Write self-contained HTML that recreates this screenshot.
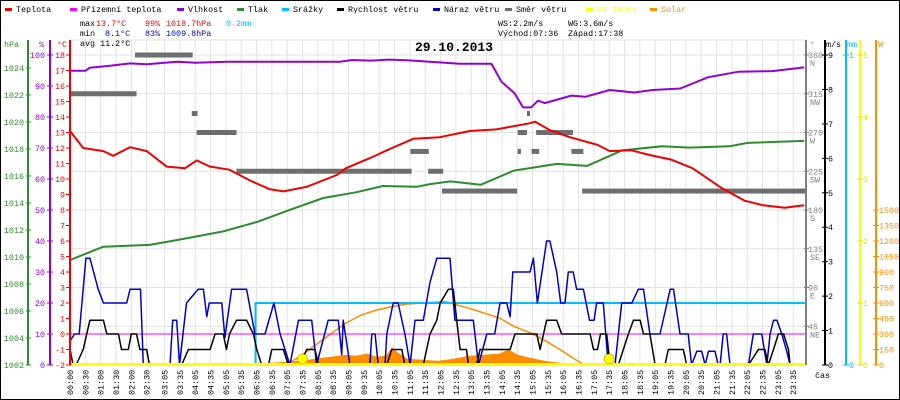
<!DOCTYPE html>
<html><head><meta charset="utf-8"><style>
html,body{margin:0;padding:0;background:#fff}
svg{display:block;font-family:"Liberation Mono","DejaVu Sans Mono",monospace}
</style></head><body>
<svg id="c" width="900" height="400" viewBox="0 0 900 400" xmlns="http://www.w3.org/2000/svg">
<rect x="0.5" y="0.5" width="899" height="399" fill="#fff" stroke="#000"/>
<g id="grid"></g>
<g id="series"></g>
<g id="axes"></g>
<g id="legend" font-size="8.4"></g>
<g font-size="8.4">
<text x="80" y="26">max</text>
<text x="96" y="26" fill="#e00">13.7°C</text>
<text x="145" y="26" fill="#e00">99%</text>
<text x="166" y="26" fill="#e00">1018.7hPa</text>
<text x="226" y="26" fill="#0bf">0.2mm</text>
<text x="80" y="36">min</text>
<text x="105" y="36" fill="#00c">8.1°C</text>
<text x="145" y="36" fill="#00c">83%</text>
<text x="166" y="36" fill="#00c">1009.8hPa</text>
<text x="80" y="46">avg 11.2°C</text>
<text x="498" y="26">WS:2.2m/s</text>
<text x="568" y="26">WG:3.6m/s</text>
<text x="498" y="36">Východ:07:36</text>
<text x="568" y="36">Západ:17:38</text>
<text x="415" y="51" font-size="13" font-weight="bold">29.10.2013</text>
</g>
</svg>
<script>
// ---- data ----
var timeLabels=["00:00","00:30","01:00","01:30","02:00","02:30"];
for(var h=3;h<24;h++){var hh=(h<10?"0":"")+h;timeLabels.push(hh+":05");timeLabels.push(hh+":35");}
var tempT=[0,0.43,1.09,1.41,1.96,2.5,3.15,3.75,4.13,4.57,5.2,5.87,6.5,6.96,7.72,8.7,9.0,9.78,10.5,11.2,12.06,13.04,13.9,15.0,15.17,15.65,16.3,17.2,17.6,18.3,18.9,19.6,20.3,21.26,22.0,22.6,23.3,23.94];
var tempV=[13.1,12.0,11.8,11.5,12.05,11.8,10.8,10.7,11.2,10.8,10.6,9.9,9.35,9.2,9.5,10.26,10.7,11.35,12.0,12.6,12.7,13.1,13.2,13.6,13.7,13.15,12.7,12.2,11.8,11.85,11.55,11.25,10.7,9.4,8.6,8.3,8.15,8.3];
var humT=[0,0.5,0.65,1.3,1.96,2.5,3.5,4.1,5.1,8.8,9.2,9.8,10.4,11.0,11.74,12.7,13.74,14.07,14.5,14.77,15.04,15.26,15.48,16.35,16.8,17.6,18.4,19.0,19.9,20.8,21.8,22.9,23.94];
var humV=[94.9,94.9,95.9,96.5,97.3,97.0,97.8,97.5,97.8,97.8,98.4,98.2,98.5,98.3,97.8,97.2,97.2,91.4,87.6,83.1,83.1,85.3,84.5,86.9,86.5,88.7,87.9,88.7,89.2,92.8,94.6,94.8,96];
var pressT=[0,1.09,2.6,3.5,5.0,6.1,7.17,8.26,9.35,10.2,11.3,11.74,12.4,13.39,14.47,15.88,16.86,18.0,19.3,20.2,21.5,22.1,23.94];
var pressV=[1009.78,1010.76,1010.9,1011.26,1011.9,1012.6,1013.5,1014.37,1014.8,1015.26,1015.2,1015.4,1015.6,1015.35,1016.4,1016.9,1016.75,1017.9,1018.2,1018.1,1018.2,1018.45,1018.6];
var dirStart=[0,2.12,3.97,4.13,5.43,11.1,11.68,12.13,14.6,14.6,14.9,15.2,14.6,15.05,16.35,16.7];
var dirEnd=[2.17,4.0,4.16,5.43,11.14,11.7,12.17,14.58,14.9,14.7,15.0,16.4,14.7,15.3,16.74,24];
var dirDeg=[315,360,292,270,225,248,225,202,270,248,292,270,248,248,248,202];
var rainT=[0,6.05,6.05,24];
var rainV=[0,0,0.2,0.2];
var apparentT=[0,24];
var apparentV=[0,0];
var gustT=[0,0.15,0.3,0.52,0.65,0.92,1.09,1.85,1.96,2.3,2.39,3.26,3.35,3.48,3.57,3.8,4.18,4.35,4.46,4.54,4.95,5.05,5.27,5.76,6.03,6.36,6.65,6.85,7.17,7.45,7.88,8.04,8.42,8.75,8.86,8.91,9.13,9.78,9.84,9.95,10.05,10.27,10.33,10.54,10.7,10.92,11.09,11.25,11.52,11.74,11.96,12.39,12.55,13.15,13.32,13.59,13.85,14.02,14.24,14.35,14.44,15.0,15.11,15.24,15.54,15.65,15.87,16.0,16.14,16.25,16.41,16.52,16.74,16.94,17.09,17.17,17.39,17.55,17.77,17.99,18.32,18.53,18.7,18.91,19.24,19.57,19.68,19.89,20.16,20.27,20.44,20.6,20.71,20.82,21.03,21.14,21.2,21.3,21.41,21.52,22.12,22.28,22.56,22.72,22.83,22.94,23.05,23.21,23.37,23.48,23.95];
var gustV=[0.7,0.9,0.9,3.1,3.1,2.2,1.8,1.8,2.2,2.2,0,0,1.3,1.3,0,1.8,2.2,2.2,1.4,1.8,1.8,0.8,2.2,2.2,0.9,0.9,1.8,0.9,0,1.3,1.3,0,1.3,1.3,0.3,1.3,0,0,0.9,0.9,0,0,0.9,1.8,1.8,0.9,0,1.3,1.3,2.4,3.1,3.1,1.3,1.3,0,0.9,0.9,1.8,1.8,1.4,2.7,2.7,3.1,1.8,3.6,3.6,2.7,1.8,1.8,2.7,2.7,2.2,2.2,1.3,1.3,1.8,1.8,0,0,1.8,1.8,2.2,2.2,0.9,0.9,2.2,2.2,0.9,0.9,0,0.4,0.4,0,0.4,0.4,0,0,0.9,0.9,0,0,0.9,0.9,0,0.9,1.3,1.3,0.9,0.4,0,0];
var windT=[0,0.1,0.2,0.43,0.65,1.09,1.2,1.58,1.68,1.9,2.0,2.17,2.28,2.5,2.59,3.64,3.86,4.57,4.73,5.0,5.1,5.2,5.43,5.76,5.98,6.09,6.25,6.47,6.58,6.96,7.12,7.5,7.72,7.99,8.1,10.33,10.49,10.82,10.92,11.52,11.74,11.96,12.07,12.34,12.5,12.61,12.72,12.93,12.99,13.26,13.37,14.35,14.51,15.22,15.33,15.54,15.87,16.03,16.96,17.07,17.2,17.3,17.5,17.61,17.88,18.21,18.37,18.59,18.7,18.91,19.08,19.4,19.51,20.0,20.11,22.12,22.45,22.66,22.77,22.94,23.1,23.27,23.43,23.48,23.95];
var windV=[0.45,0,0,0.45,1.3,1.3,0.9,0.9,0.45,0.45,0.9,0.9,0.45,0.45,0,0,0.45,0.45,0.9,0.9,0.45,0.9,1.3,1.3,0.9,0.45,0,0,0.45,0.45,0,0,0.45,0.45,0,0,0.45,0.45,0,0,0.9,1.3,1.8,2.2,2.2,1.3,0.45,0.45,0,0,0.45,0.45,0.9,0.9,0.45,1.3,1.3,0.9,0.9,0.45,0.45,0.9,0.9,0,0,0.9,1.3,1.3,0.9,0.9,0,0,0.45,0.45,0,0,0.45,0.45,0,0.45,0.9,0.9,0.45,0,0];
var sunMaxT=[7.0,7.5,8,8.5,9,9.5,10,10.5,11,11.5,12,12.2,12.5,13,13.5,14,14.5,15,15.5,16,16.5,16.8];
var sunMaxV=[0,80,193,300,406,484,532,565,590,600,610,615,590,550,503,455,371,313,235,145,48,0];
var solarT=[6.4,6.5,7,7.5,8,8.5,9,9.3,9.7,10,10.3,10.5,10.7,11,11.5,12,12.5,13,13.5,14,14.3,14.6,15,15.5,16,16.5];
var solarV=[0,20,30,40,60,80,100,90,110,80,90,170,120,60,50,40,60,90,100,110,150,100,70,40,20,0];
var sunEventT=[7.58,17.58];
var hpaTicks=[1002,1004,1006,1008,1010,1012,1014,1016,1018,1020,1022,1024];
var humTicks=[0,10,20,30,40,50,60,70,80,90,100];
var tempTicks=[-2,-1,0,1,2,3,4,5,6,7,8,9,10,11,12,13,14,15,16,17,18];
var dirTicks=[45,90,135,180,225,270,315,360];
var dirNames=["NE","E","SE","S","SW","W","NW","N"];
var windTicks=[0,1,2,3,4,5,6,7,8,9];
var rainTicks=[0,1];
var uvTicks=[0,1,2,3,4,5];
var solarTicks=[0,150,300,450,600,750,900,1050,1200,1350,1500];

// ---- scales ----
function X(t){return 70+t*30.667;}
function yT(v){return 334-15.5*v;}
function yH(v){return 365-3.1*v;}
function yP(v){return 365-(v-1002)*13.5;}
function yD(v){return 365-v*310/360;}
function yWs(v){return 365-v*34.44;}
function yR(v){return 365-v*310;}
function yUV(v){return 365-v*62;}
function ySol(v){return 365-v*0.10333;}
function tFromLabel(s){var p=s.split(":");return +p[0]+(+p[1])/60;}

var NS="http://www.w3.org/2000/svg";
function mk(tag,attrs,parent){var e=document.createElementNS(NS,tag);for(var k in attrs)e.setAttribute(k,attrs[k]);parent.appendChild(e);return e;}
var G=document.getElementById('grid'),S=document.getElementById('series'),A=document.getElementById('axes'),L=document.getElementById('legend');

timeLabels.forEach(function(lb){var x=X(tFromLabel(lb));
 var e=mk('line',{x1:x,x2:x,y1:40,y2:365,stroke:'#e2e2e2'},G);
 
 
 var tx=mk('text',{x:0,y:0,'font-size':8.4,transform:'translate('+(x+3)+',395) rotate(-90)'},A);
 tx.textContent=lb;
 
 
});
[0].concat(dirTicks).forEach(function(d){var y=yD(d);
 var e=mk('line',{x1:70,x2:806,y1:y,y2:y,stroke:'#e2e2e2'},G);
 
 
});
var tl=mk('line',{x1:70,x2:806,y1:40,y2:40,stroke:'#e2e2e2'},G);



function poly(ts,vs,fy,color,w,name){var pts=ts.map(function(t,i){return X(t).toFixed(1)+','+fy(vs[i]).toFixed(1);}).join(' ');
 var e=mk('polyline',{points:pts,fill:'none',stroke:color,'stroke-width':w,'stroke-linejoin':'round'},S);
 
 
 return e;}

(function(){var pts=X(solarT[0]).toFixed(1)+',365 '+solarT.map(function(t,i){return X(t).toFixed(1)+','+ySol(solarV[i]).toFixed(1);}).join(' ')+' '+X(solarT[solarT.length-1]).toFixed(1)+',365';
 var e=mk('polygon',{points:pts,fill:'#ff8c00'},S);
 
 })();
poly(sunMaxT,sunMaxV,ySol,'#ff8c00',1.5,'solar-max-line');
dirDeg.forEach(function(d,i){var e=mk('rect',{x:X(dirStart[i]),y:yD(d)-2.5,width:X(dirEnd[i])-X(dirStart[i]),height:5,fill:'#6e6e6e'},S);
 
 });
poly(apparentT,apparentV,yT,'#ff00ff',1,'apparent-temperature-line');
poly(rainT,rainV,yR,'#00bfff',2,'rainfall-line');
poly(pressT,pressV,yP,'#2e8b2e',2,'pressure-line');
poly(humT,humV,yH,'#9400d3',2,'humidity-line');
poly(tempT,tempV,yT,'#f00000',2,'temperature-line');
poly(gustT,gustV,yWs,'#0000cc',1.5,'wind-gust-line');
poly(windT,windV,yWs,'#000',1.5,'wind-speed-line');
var uv=mk('line',{x1:70,x2:806,y1:364.5,y2:364.5,stroke:'#ffff00','stroke-width':3},S);


sunEventT.forEach(function(t){var e=mk('circle',{cx:X(t),cy:359,r:5,fill:'#ffff00',stroke:'#aa9900','stroke-width':0.6},S);
 
 });

function axis(x,y1,color,name){var e=mk('line',{x1:x,x2:x,y1:y1,y2:365,stroke:color,'stroke-width':2},A);
 
 }
function txt(x,y,s,color,anchor,name,size){var e=mk('text',{x:x,y:y,fill:color,'text-anchor':anchor||'start','font-size':size||8.4},A);e.textContent=s;
 
 return e;}
function tick(x1,x2,y,color){var e=mk('line',{x1:x1,x2:x2,y1:y,y2:y,stroke:color},A);
 
 }
axis(28,40,'#2e8b2e','pressure-axis');axis(50,40,'#9400d3','humidity-axis');axis(70,40,'#f00000','temperature-axis');
axis(806,40,'#808080','direction-axis');axis(825,40,'#000','wind-axis');axis(846,40,'#00bfff','rain-axis');axis(860,40,'#ffff00','uv-axis');axis(876,40,'#ff8c00','solar-axis');
txt(4,47,'hPa','#2e8b2e','start','pressure-unit');txt(39,47,'%','#9400d3','start','humidity-unit');txt(57,47,'°C','#f00000','start','temperature-unit');
hpaTicks.forEach(function(v){var y=yP(v);tick(26,31,y,'#2e8b2e');txt(24,y+3,String(v),'#2e8b2e','end','pressure-tick-label');});
humTicks.forEach(function(v){var y=yH(v);tick(47,53,y,'#9400d3');txt(45,y+3,String(v),'#9400d3','end','humidity-tick-label');});
tempTicks.forEach(function(v){var y=yT(v);tick(66,71,y,'#f00000');txt(65,y+3,String(v),'#f00000','end','temperature-tick-label');});
txt(810,47,'°','#808080','start','direction-unit',8);txt(826,47,'m/s','#000','start','wind-unit',8.4);txt(847,47,'mm','#00bfff','start','rain-unit',8.4);txt(878,47,'W','#ff8c00','start','solar-unit');
dirTicks.forEach(function(v,i){var y=yD(v);tick(804,809,y,'#808080');txt(808,y+3,String(v),'#808080','start','direction-tick-label');txt(810,y+11,dirNames[i],'#808080','start','direction-name-label');});
windTicks.forEach(function(v){var y=yWs(v);tick(822,828,y,'#000');txt(828,y+3,String(v),'#000','start','wind-tick-label');});
rainTicks.forEach(function(v){var y=yR(v);tick(843,849,y,'#00bfff');txt(849,y+3,String(v),'#00bfff','start','rain-tick-label');});
uvTicks.forEach(function(v){var y=yUV(v);tick(857,863,y,'#dddd00');txt(863,y+3,String(v),'#dddd00','start','uv-tick-label');});
solarTicks.forEach(function(v){var y=ySol(v);tick(873,879,y,'#ff8c00');txt(879,y+3,String(v),'#ff8c00','start','solar-tick-label');});
txt(815,378,'čas','#000','start','time-axis-title');

var legendNames=["Teplota","Přízemní teplota","Vlhkost","Tlak","Srážky","Rychlost větru","Náraz větru","Směr větru","UV index","Solar"];
var legendColors=["#f00000","#ff00ff","#9400d3","#2e8b2e","#00bfff","#000","#0000cc","#6e6e6e","#ffff00","#ff8c00"];
var legendX=[5,70,177,237,282,337,433,505,586,650];
legendNames.forEach(function(n,i){var x=legendX[i];
 var r=mk('rect',{x:x,y:8,width:7,height:3,fill:legendColors[i]},L);
 
 
 var t=mk('text',{x:x+11,y:12,fill:(i>=8?legendColors[i]:'#000')},L);t.textContent=n;
 
 
});
</script>
</body></html>
